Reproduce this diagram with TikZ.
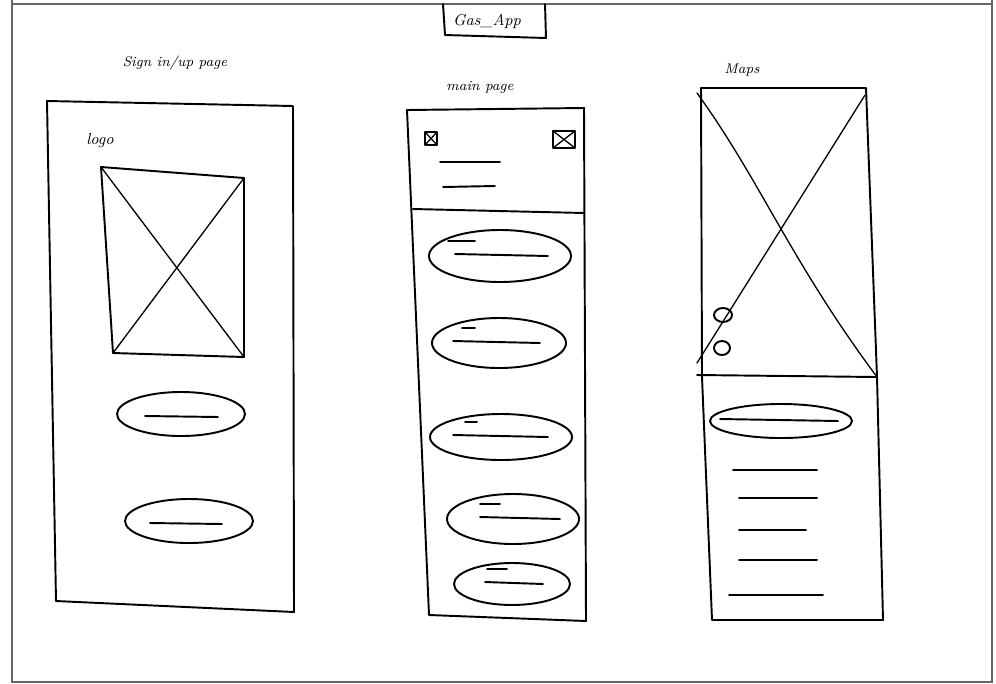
\documentclass[tikz,border=0pt]{standalone}
\usepackage{tikz}
\usetikzlibrary{positioning, calc}

\tikzset{
	sketch/.style={line width=1.1pt, line join=round, line cap=round},
	thinline/.style={line width=0.75pt, line cap=round},
	pagelabel/.style={font=\footnotesize\itshape, inner sep=1pt},
}

\begin{document}
\begin{tikzpicture}[x=0.02cm, y=-0.02cm]
	% paper and frame
	\useasboundingbox (0,0) rectangle (996,683);
	\fill[white] (0,0) rectangle (996,683);
	\draw[gray!80!black, line width=1.6pt] (12,-2) -- (12,682) -- (992,682) -- (992,-2);
	\draw[gray!80!black, line width=1.6pt] (12,4) -- (992,4);

	% title box
	\draw[sketch] (443,4) -- (445,35) -- (546,38) -- (545,4);
	\node[font=\small\itshape] (title) at (487,21) {Gas\_App};

	% page labels
	\node[pagelabel] (signlabel) at (175,63) {Sign in/up page};
	\node[pagelabel] (mainlabel) at (480,87) {main page};
	\node[pagelabel] (mapslabel) at (742,70) {Maps};

	% ---- sign in / up page ----
	\draw[sketch] (47,101) -- (293,106) -- (294,612) -- (56,601) -- cycle;
	\node[font=\small\itshape] (logo) at (100,141) {logo};
	\draw[sketch] (101,167) -- (244,178) -- (244,357) -- (113,353) -- cycle;
	\draw[thinline] (101,167) -- (244,357);
	\draw[thinline] (244,178) -- (113,353);
	\foreach \cx/\cy/\l/\r in {181/414/145/218, 189/521/150/222}{
		\draw[sketch] (\cx,\cy) ellipse [x radius=64, y radius=22];
		\draw[sketch] (\l,\cy+2) -- (\r,\cy+3);
	}

	% ---- main page ----
	\draw[sketch] (407,110) -- (584,108) -- (586,621) -- (429,615) -- cycle;
	\draw[sketch] (413,209) -- (584,213);
	\draw[sketch] (425,132) rectangle (437,145);
	\draw[thinline] (425,132) -- (437,145) (437,132) -- (425,145);
	\draw[sketch] (553,131) rectangle (575,148);
	\draw[thinline] (553,131) -- (575,148) (575,131) -- (553,148);
	\draw[sketch] (440,162) -- (500,162);
	\draw[sketch] (443,187) -- (495,186);
	\foreach \cx/\cy/\rx/\ry/\a/\b/\c/\d in {
		500/256/71/26/448/475/455/548,
		499/343/67/25/462/475/453/540,
		501/437/71/23/465/477/453/548,
		513/519/66/25/480/500/480/560,
		512/584/58/21/487/507/485/543}{
		\draw[sketch] (\cx,\cy) ellipse [x radius=\rx, y radius=\ry];
		\draw[sketch] (\a,\cy-15) -- (\b,\cy-15);
		\draw[sketch] (\c,\cy-2) -- (\d,\cy);
	}

	% ---- maps page ----
	\draw[sketch] (701,88) -- (866,88) -- (877,377) -- (883,620) -- (712,620) -- (702,377) -- cycle;
	\draw[sketch] (697,375) -- (877,377);
	\draw[thinline] (697,93) .. controls (760,180) and (790,260) .. (877,377);
	\draw[thinline] (865,95) -- (697,363);
	\draw[sketch] (723,315) ellipse [x radius=9, y radius=7];
	\draw[sketch] (722,348) ellipse [x radius=8, y radius=7];
	\draw[sketch] (781,421) ellipse [x radius=71, y radius=17];
	\draw[sketch] (720,419) -- (838,421);
	\foreach \y/\l/\r in {470/733/817, 498/739/817, 530/739/806, 560/739/817, 595/729/823}{
		\draw[sketch] (\l,\y) -- (\r,\y);
	}
\end{tikzpicture}
\end{document}
